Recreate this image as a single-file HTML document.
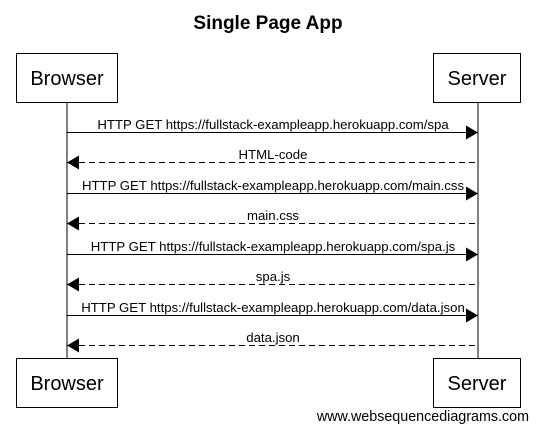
<!DOCTYPE html>
<html><head><style>body{margin:0;background:#fff}svg{display:block}</style></head><body>
<svg width="537" height="432" xmlns="http://www.w3.org/2000/svg" font-family="Liberation Sans, Arial, sans-serif">
<rect width="537" height="432" fill="#fff"/>
<text x="268" y="29" text-anchor="middle" font-size="19" font-weight="bold">Single Page App</text>
<g stroke="#000" stroke-width="1" fill="#fff">
<line x1="67" y1="103" x2="67" y2="358"/>
<line x1="478" y1="103" x2="478" y2="358"/>
<rect x="16.5" y="53.5" width="101" height="49"/>
<rect x="433.5" y="53.5" width="87" height="49"/>
<rect x="16.5" y="358.5" width="101" height="49"/>
<rect x="433.5" y="358.5" width="87" height="49"/>
</g>
<g font-size="20" text-anchor="middle">
<text x="67" y="85">Browser</text><text x="477" y="85">Server</text>
<text x="67" y="390">Browser</text><text x="477" y="390">Server</text>
</g>
<g stroke="#000" stroke-width="1">
<line x1="67" y1="132.5" x2="466" y2="132.5"/>
<line x1="79" y1="162.5" x2="478" y2="162.5" stroke-dasharray="6,4"/>
<line x1="67" y1="193.5" x2="466" y2="193.5"/>
<line x1="79" y1="223.5" x2="478" y2="223.5" stroke-dasharray="6,4"/>
<line x1="67" y1="254.5" x2="466" y2="254.5"/>
<line x1="79" y1="284.5" x2="478" y2="284.5" stroke-dasharray="6,4"/>
<line x1="67" y1="315.5" x2="466" y2="315.5"/>
<line x1="79" y1="345.5" x2="478" y2="345.5" stroke-dasharray="6,4"/>
</g>
<g fill="#000">
<polygon points="478,132.5 466,125.5 466,139.5"/>
<polygon points="67,162.5 79,155.5 79,169.5"/>
<polygon points="478,193.5 466,186.5 466,200.5"/>
<polygon points="67,223.5 79,216.5 79,230.5"/>
<polygon points="478,254.5 466,247.5 466,261.5"/>
<polygon points="67,284.5 79,277.5 79,291.5"/>
<polygon points="478,315.5 466,308.5 466,322.5"/>
<polygon points="67,345.5 79,338.5 79,352.5"/>
</g>
<g font-size="13.2" text-anchor="middle">
<text x="273" y="129">HTTP GET https://fullstack-exampleapp.herokuapp.com/spa</text>
<text x="273" y="159">HTML-code</text>
<text x="273" y="190">HTTP GET https://fullstack-exampleapp.herokuapp.com/main.css</text>
<text x="273" y="220">main.css</text>
<text x="273" y="251">HTTP GET https://fullstack-exampleapp.herokuapp.com/spa.js</text>
<text x="273" y="281">spa.js</text>
<text x="273" y="312">HTTP GET https://fullstack-exampleapp.herokuapp.com/data.json</text>
<text x="273" y="342">data.json</text>
</g>
<text x="529" y="421" text-anchor="end" font-size="14.3">www.websequencediagrams.com</text>
</svg>
</body></html>
